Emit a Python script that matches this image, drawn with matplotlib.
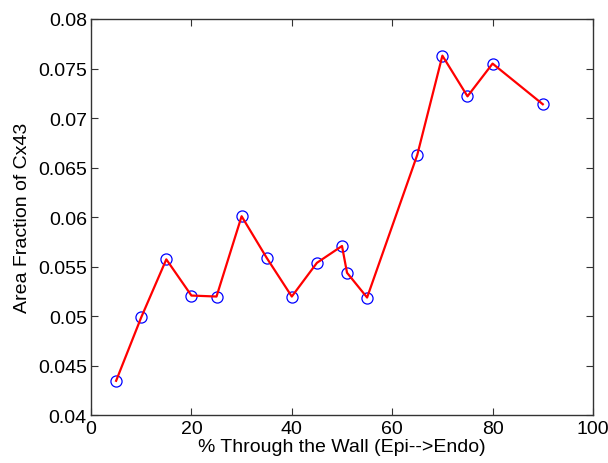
import numpy as np
import matplotlib.pyplot as plt

# percent through the wall and the area fraction
depth = [5, 10, 15, 20, 25, 30, 35, 40, 45, 50, 51, 55, 65, 70, 75, 80, 90]
area_frac = [0.0435, 0.0499, 0.05575, 0.0521, 0.0520, 0.0601, 0.0559, 0.0520,
             0.0554, 0.0571, 0.0544, 0.0519, 0.0663, 0.0763, 0.0722, 0.0755, 0.0714]

xticks = [0, 20, 40, 60, 80, 100]
yticks = [0.04, 0.045, 0.05, 0.055, 0.06, 0.065, 0.07, 0.075, 0.08]
ytick_labels = ['0.04', '0.045', '0.05', '0.055', '0.06', '0.065', '0.07', '0.075', '0.08']

plt.rcParams['font.family'] = ['Liberation Sans', 'DejaVu Sans']

fig = plt.figure(figsize=(6.08, 4.64), dpi=100)
ax = fig.add_axes([0.1497, 0.1024, 0.8256, 0.8545])

ax.plot(depth, area_frac, 'o', mfc='none', mec='#0000ff', ms=8, mew=0.9)
ax.plot(depth, area_frac, '-', color='#ff0000', lw=1.6)

ax.set_xlim(0, 100)
ax.set_ylim(0.04, 0.08)
ax.set_xticks(xticks)
ax.set_yticks(yticks)
ax.set_yticklabels(ytick_labels)
ax.tick_params(direction='in', length=5, width=0.8, color='#333333',
               top=True, right=True, labelsize=14, pad=3)
for s in ax.spines.values():
    s.set_color('#333333')
    s.set_linewidth(1.0)

ax.set_xlabel('% Through the Wall (Epi-->Endo)', fontsize=14, labelpad=1)
ax.set_ylabel('Area Fraction of Cx43', fontsize=14, labelpad=5)

fig.savefig('out.png', dpi=100)
